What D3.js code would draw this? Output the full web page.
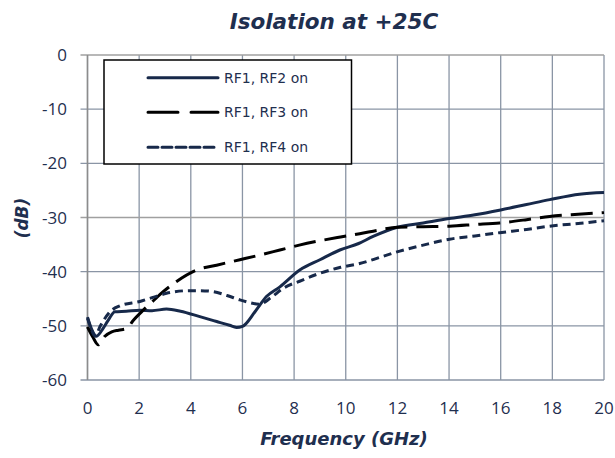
<!DOCTYPE html>
<html><head><meta charset="utf-8">
<script src="https://cdn.jsdelivr.net/npm/d3@7"></script>
<style>body{margin:0;background:#fff}svg{display:block}</style>
</head><body>
<svg id="c" width="615" height="458"></svg>
<script>
const xTicks = [0,2,4,6,8,10,12,14,16,18,20];
const yTicks = [0,-10,-20,-30,-40,-50,-60];
const seriesNames = ["RF1, RF2 on","RF1, RF3 on","RF1, RF4 on"];

const rf2Freq = [0,0.15,0.35,0.6,0.8,1.06,1.5,2.03,2.5,3.06,3.6,4.35,5.0,5.5,5.77,6.0,6.5,6.93,7.45,8.22,9.0,9.77,10.5,11.06,12.0,13.0,14.0,15.0,16.0,17.0,17.9,19.05,20];
const rf2Iso  = [-48.4,-50.5,-51.9,-50.5,-49.0,-47.4,-47.3,-47.1,-47.2,-46.9,-47.3,-48.3,-49.2,-49.9,-50.3,-50.1,-47.3,-44.6,-42.8,-39.7,-37.8,-36,-34.8,-33.5,-31.8,-31,-30.2,-29.5,-28.6,-27.6,-26.7,-25.7,-25.4];

const rf3Freq = [0,0.2,0.42,0.65,0.94,1.2,1.52,1.77,2.16,2.5,2.93,3.45,4.22,5.0,5.9,6.7,7.45,8.2,8.99,9.8,10.54,11.3,12.0,13.0,14.02,15.0,15.96,17.0,17.89,19.0,20];
const rf3Iso  = [-50.2,-52,-53.5,-52,-51.1,-50.8,-50.5,-49.0,-47.1,-45.6,-43.7,-41.8,-39.7,-38.8,-37.8,-36.9,-36.0,-35.1,-34.3,-33.6,-33.0,-32.3,-31.8,-31.7,-31.6,-31.3,-31.0,-30.4,-29.8,-29.4,-29.1];

const rf4Freq = [0,0.12,0.29,0.5,0.87,1.26,2.03,2.5,3.06,3.97,4.35,4.87,5.4,5.9,6.67,7.1,7.57,8.3,8.99,9.8,10.54,11.3,12.09,13.0,14.02,15.0,15.96,17.0,17.89,19.0,20];
const rf4Iso  = [-48.6,-50.3,-51.9,-50,-47.4,-46.3,-45.5,-44.8,-44,-43.5,-43.5,-43.7,-44.4,-45.2,-46.0,-44.8,-43.1,-41.6,-40.3,-39.2,-38.5,-37.4,-36.2,-35.1,-34.0,-33.4,-32.8,-32.2,-31.6,-31.1,-30.6];

const series = [
  {name: seriesNames[0], x: rf2Freq, y: rf2Iso, color: "#17294a", dash: null},
  {name: seriesNames[1], x: rf3Freq, y: rf3Iso, color: "#000000", dash: "22,9"},
  {name: seriesNames[2], x: rf4Freq, y: rf4Iso, color: "#17294a", dash: "8,5"}
];

const svg = d3.select("#c");
const L = 87.5, R = 604, T = 55, B = 380;
const x = d3.scaleLinear().domain([0,20]).range([L,R]);
const y = d3.scaleLinear().domain([-60,0]).range([B,T]);
const font = "'DejaVu Sans', sans-serif";
const tickFont = "'Open Sans', sans-serif";
const txt = "#1f2f4f";

// grid
const g = svg.append("g");
g.selectAll(".vg").data(xTicks).join("line")
  .attr("x1", d=>x(d)).attr("x2", d=>x(d)).attr("y1", T).attr("y2", B)
  .attr("stroke", "#8a95a5").attr("stroke-width", 1.3);
g.selectAll(".hg").data(yTicks).join("line")
  .attr("x1", L-7).attr("x2", R).attr("y1", d=>y(d)).attr("y2", d=>y(d))
  .attr("stroke", d => (d===0||d===-30) ? "#a0a0a0" : "#8a95a5").attr("stroke-width", 1.3);
g.append("line").attr("x1", L).attr("x2", L).attr("y1", T).attr("y2", B)
  .attr("stroke", "#8c8c8c").attr("stroke-width", 1.5);

// tick labels
svg.selectAll(".yl").data(yTicks).join("text")
  .attr("x", 67).attr("y", d=>y(d)).attr("dy", "0.36em").attr("text-anchor", "end")
  .attr("font-family", tickFont).attr("font-size", 17).attr("fill", txt).text(d=>d);
svg.selectAll(".xl").data(xTicks).join("text")
  .attr("x", d=>x(d)).attr("y", 408).attr("dy", "0.36em").attr("text-anchor", "middle")
  .attr("font-family", tickFont).attr("font-size", 17).attr("fill", txt).text(d=>d);

// lines
const line = d3.line().curve(d3.curveMonotoneX);
series.forEach(s => {
  const pts = s.x.map((v,i)=>[x(v), y(s.y[i])]);
  svg.append("path").attr("d", line(pts)).attr("fill","none")
    .attr("stroke", s.color).attr("stroke-width", 3)
    .attr("stroke-dasharray", s.dash).attr("stroke-linejoin","round");
});

// legend
const lg = svg.append("g");
lg.append("rect").attr("x",104).attr("y",60).attr("width",247.5).attr("height",104)
  .attr("fill","#fff").attr("stroke","#000").attr("stroke-width",1.5);
const ly = [77.7, 112.3, 147.3];
series.forEach((s,i)=>{
  lg.append("line").attr("x1",148).attr("x2",218).attr("y1",ly[i]).attr("y2",ly[i])
    .attr("stroke", s.color).attr("stroke-width",3)
    .attr("stroke-dasharray", i===1 ? "30,13" : (i===2 ? "10,4" : null))
    .attr("stroke-linecap","round");
  lg.append("text").attr("x",224).attr("y",ly[i]).attr("dy","0.35em")
    .attr("font-family",font).attr("font-size",14).attr("fill",txt).text(s.name);
});

// titles
svg.append("text").attr("x",334).attr("y",29).attr("text-anchor","middle")
  .attr("font-family",font).attr("font-size",21.5).attr("font-weight","bold").attr("font-style","italic")
  .attr("fill",txt).text("Isolation at +25C");
svg.append("text").attr("x",344).attr("y",445).attr("text-anchor","middle")
  .attr("font-family",font).attr("font-size",18).attr("font-weight","bold").attr("font-style","italic")
  .attr("fill",txt).text("Frequency (GHz)");
svg.append("text").attr("transform","translate(22,218) rotate(-90)").attr("dy","0.35em").attr("text-anchor","middle")
  .attr("font-family",font).attr("font-size",17).attr("font-weight","bold").attr("font-style","italic")
  .attr("fill",txt).text("(dB)");
</script>
</body></html>
